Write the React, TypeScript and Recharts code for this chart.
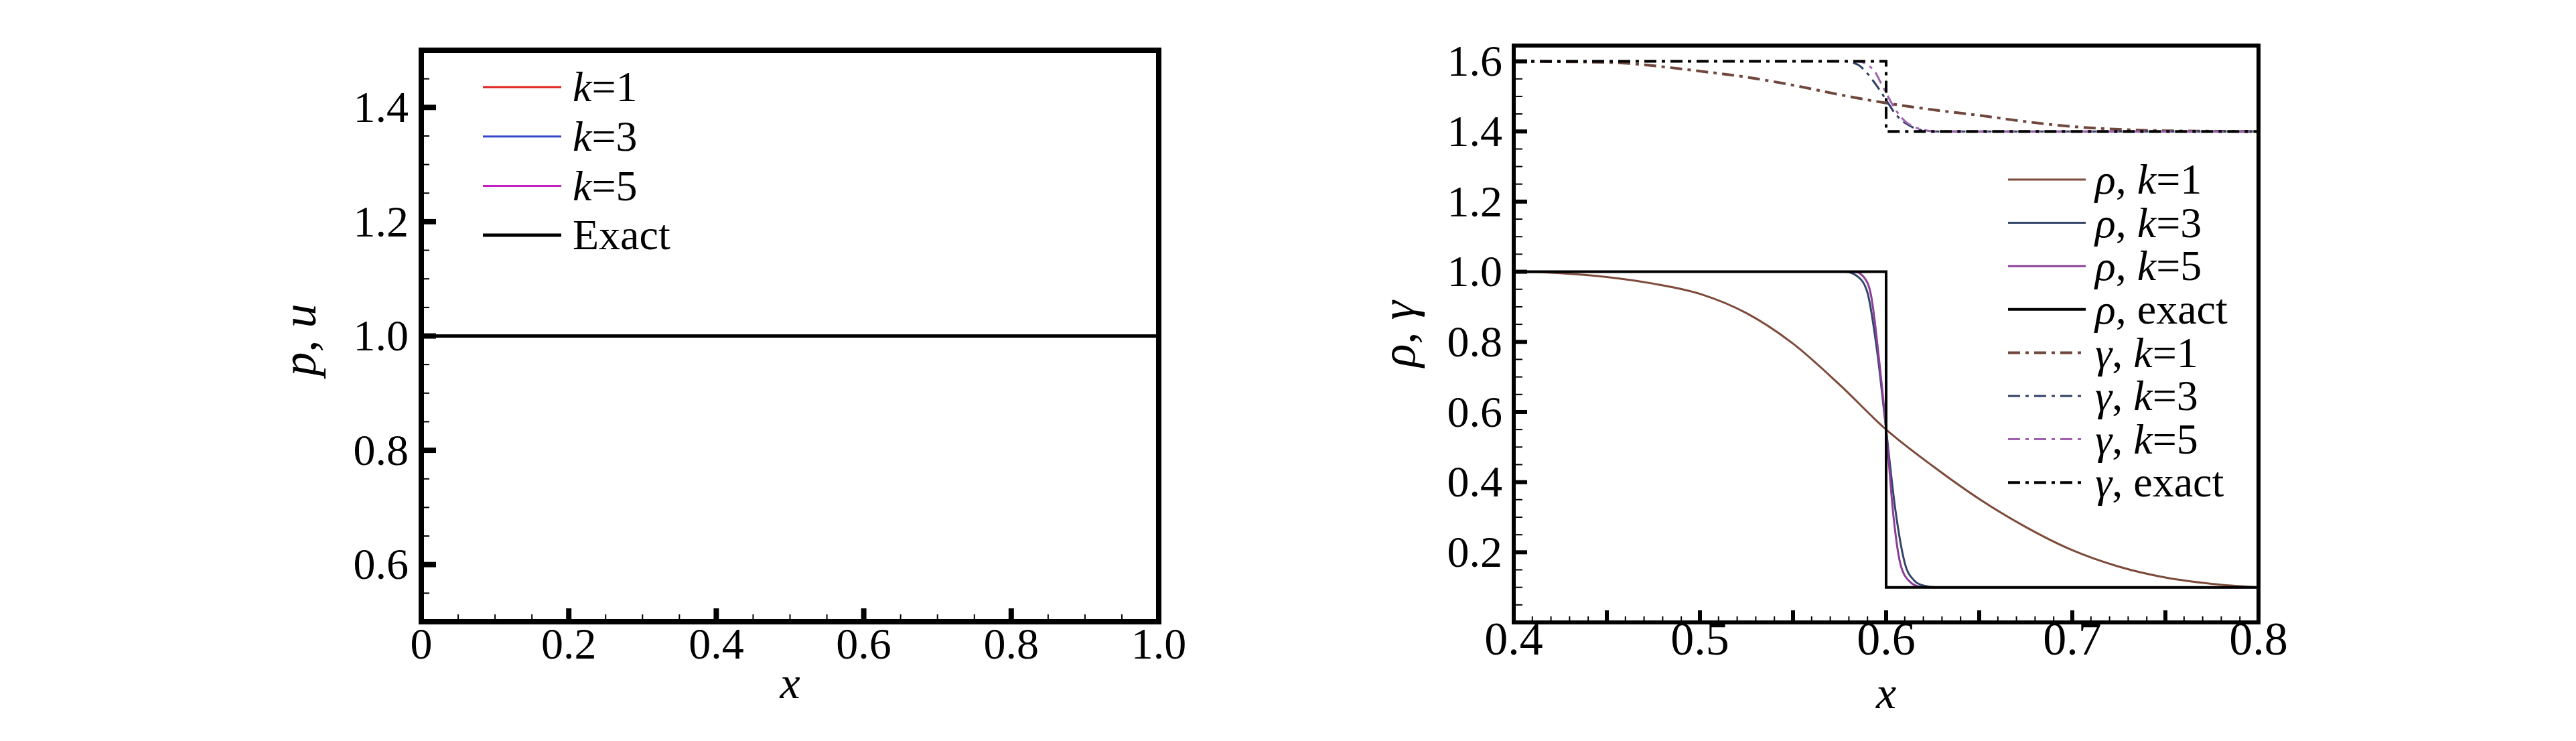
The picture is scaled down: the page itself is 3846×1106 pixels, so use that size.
import { LineChart, Line, XAxis, YAxis, ReferenceArea, Legend } from 'recharts'

const SERIF = '"Liberation Serif", "Times New Roman", "DejaVu Serif", serif'

// left panel: p and u stay at 1 everywhere
const leftX = [0, 0.2, 0.4, 0.6, 0.8, 1.0]
const leftK1 = [1, 1, 1, 1, 1, 1]
const leftK3 = [1, 1, 1, 1, 1, 1]
const leftK5 = [1, 1, 1, 1, 1, 1]
const leftExact = [1, 1, 1, 1, 1, 1]

const leftXTicks = [0, 0.2, 0.4, 0.6, 0.8, 1.0]
const leftXLabels = ['0', '0.2', '0.4', '0.6', '0.8', '1.0']
const leftYTicks = [0.6, 0.8, 1.0, 1.2, 1.4]
const leftYLabels = ['0.6', '0.8', '1.0', '1.2', '1.4']

// right panel: rho and gamma near the interface, [x, value]
const rhoK1 = [[0.4, 1.0], [0.425, 0.996], [0.45, 0.985], [0.475, 0.966], [0.5, 0.937], [0.525, 0.882], [0.55, 0.795], [0.575, 0.678], [0.6, 0.55], [0.625, 0.446], [0.65, 0.352], [0.675, 0.272], [0.7, 0.206], [0.725, 0.159], [0.75, 0.128], [0.775, 0.11], [0.8, 0.1]]
const rhoK3 = [[0.4, 1.0], [0.578, 1.0], [0.585, 0.985], [0.59, 0.94], [0.595, 0.78], [0.6, 0.55], [0.605, 0.32], [0.61, 0.17], [0.615, 0.12], [0.62, 0.105], [0.627, 0.1], [0.8, 0.1]]
const rhoK5 = [[0.4, 1.0], [0.583, 1.0], [0.588, 0.985], [0.592, 0.93], [0.596, 0.76], [0.6, 0.55], [0.604, 0.3], [0.608, 0.16], [0.613, 0.115], [0.618, 0.102], [0.622, 0.1], [0.8, 0.1]]
const rhoExact = [[0.4, 1.0], [0.6, 1.0], [0.6, 0.1], [0.8, 0.1]]
const gamK1 = [[0.4, 1.6], [0.45, 1.597], [0.5, 1.572], [0.525, 1.555], [0.55, 1.532], [0.575, 1.505], [0.6, 1.481], [0.625, 1.462], [0.65, 1.446], [0.675, 1.428], [0.7, 1.414], [0.725, 1.406], [0.75, 1.402], [0.8, 1.4]]
const gamK3 = [[0.4, 1.6], [0.578, 1.6], [0.585, 1.59], [0.59, 1.565], [0.595, 1.53], [0.6, 1.49], [0.605, 1.45], [0.61, 1.425], [0.615, 1.41], [0.62, 1.403], [0.628, 1.4], [0.8, 1.4]]
const gamK5 = [[0.4, 1.6], [0.585, 1.6], [0.59, 1.59], [0.594, 1.57], [0.598, 1.53], [0.602, 1.49], [0.606, 1.455], [0.61, 1.43], [0.615, 1.413], [0.62, 1.405], [0.626, 1.4], [0.8, 1.4]]
const gamExact = [[0.4, 1.6], [0.6, 1.6], [0.6, 1.4], [0.8, 1.4]]

const rightXTicks = [0.4, 0.5, 0.6, 0.7, 0.8]
const rightXLabels = ['0.4', '0.5', '0.6', '0.7', '0.8']
const rightXMid = [0.45, 0.55, 0.65, 0.75]
const rightYTicks = [0.2, 0.4, 0.6, 0.8, 1.0, 1.2, 1.4, 1.6]
const rightYLabels = ['0.2', '0.4', '0.6', '0.8', '1.0', '1.2', '1.4', '1.6']

const DASHDOT = '18 8 5 8'

const leftSeries = [
  { key: 'k1', name: 'k=1', color: '#e0221c', width: 3 },
  { key: 'k3', name: 'k=3', color: '#3546c8', width: 3 },
  { key: 'k5', name: 'k=5', color: '#c21fc4', width: 3 },
  { key: 'exact', name: 'Exact', color: '#000000', width: 5 },
]

const rightSeries = [
  { data: rhoK1, name: 'ρ, k=1', color: '#7d4a3a', width: 3, type: 'monotone' },
  { data: rhoK3, name: 'ρ, k=3', color: '#34466b', width: 3, type: 'monotone' },
  { data: rhoK5, name: 'ρ, k=5', color: '#8b3f98', width: 3, type: 'monotone' },
  { data: rhoExact, name: 'ρ, exact', color: '#000000', width: 4, type: 'linear' },
  { data: gamK1, name: 'γ, k=1', color: '#6f473d', width: 4, type: 'monotone', dash: DASHDOT },
  { data: gamK3, name: 'γ, k=3', color: '#2f3f63', width: 3, type: 'monotone', dash: DASHDOT },
  { data: gamK5, name: 'γ, k=5', color: '#a060b0', width: 3, type: 'monotone', dash: DASHDOT },
  { data: gamExact, name: 'γ, exact', color: '#000000', width: 4, type: 'linear', dash: DASHDOT },
]

const leftData = leftX.map((x, i) => ({ x, k1: leftK1[i], k3: leftK3[i], k5: leftK5[i], exact: leftExact[i] }))
const toPoints = (pairs: number[][]) => pairs.map(([x, y]) => ({ x, y }))

// positions for minor tick marks
function tickRange(from: number, to: number, step: number) {
  const out: number[] = []
  const n = Math.round((to - from) / step)
  for (let i = 0; i <= n; i++) out.push(Math.round((from + i * step) * 1000) / 1000)
  return out
}

const near = (a: number, b: number) => Math.abs(a - b) < 1e-6

type TickCfg = {
  major: number[]
  labels: string[]
  mid?: number[]
  majorLen: number
  majorW: number
  minorLen: number
  minorW: number
  fontSize: number
  gap: number
}

function makeYTick(cfg: TickCfg) {
  return (props: any) => {
    const { x, y, payload } = props
    const mi = cfg.major.findIndex((m) => near(m, payload.value))
    const big = mi >= 0 || (cfg.mid || []).some((m) => near(m, payload.value))
    return (
      <g>
        <line x1={x} x2={x + (big ? cfg.majorLen : cfg.minorLen)} y1={y} y2={y} stroke="#000" strokeWidth={big ? cfg.majorW : cfg.minorW} />
        {mi >= 0 && (
          <text x={x - cfg.gap} y={y} dy="0.33em" textAnchor="end" fontFamily={SERIF} fontSize={cfg.fontSize} fill="#000">
            {cfg.labels[mi]}
          </text>
        )}
      </g>
    )
  }
}

function makeXTick(cfg: TickCfg) {
  return (props: any) => {
    const { x, y, payload } = props
    const mi = cfg.major.findIndex((m) => near(m, payload.value))
    const big = mi >= 0 || (cfg.mid || []).some((m) => near(m, payload.value))
    return (
      <g>
        <line x1={x} x2={x} y1={y} y2={y - (big ? cfg.majorLen : cfg.minorLen)} stroke="#000" strokeWidth={big ? cfg.majorW : cfg.minorW} />
        {mi >= 0 && (
          <text x={x} y={y + cfg.gap} textAnchor="middle" fontFamily={SERIF} fontSize={cfg.fontSize} fill="#000">
            {cfg.labels[mi]}
          </text>
        )}
      </g>
    )
  }
}

// k, rho and gamma are set in italics
function MathText({ s }: { s: string }) {
  return (
    <>
      {s.split(/([kργ])/).filter(Boolean).map((part, i) =>
        /^[kργ]$/.test(part) ? (
          <tspan key={i} fontStyle="italic">{part}</tspan>
        ) : (
          <tspan key={i}>{part}</tspan>
        )
      )}
    </>
  )
}

function legendContent(items: any[], o: { top: number; gap: number; x1: number; x2: number; textX: number; fontSize: number; w: number; h: number }) {
  return () => (
    <svg width={o.w} height={o.h} style={{ display: 'block', overflow: 'visible' }}>
      {items.map((it, i) => {
        const y = o.top + i * o.gap
        return (
          <g key={it.name}>
            <line x1={o.x1} x2={o.x2} y1={y} y2={y} stroke={it.color} strokeWidth={it.width} strokeDasharray={it.dash} />
            <text x={o.textX} y={y} dy="0.33em" fontFamily={SERIF} fontSize={o.fontSize} fill="#000">
              <MathText s={it.name} />
            </text>
          </g>
        )
      })}
    </svg>
  )
}

const leftXTitle = (p: any) => {
  const vb = p.viewBox
  return (
    <text x={vb.x + vb.width / 2} y={vb.y + 114} textAnchor="middle" fontFamily={SERIF} fontSize={68} fontStyle="italic">x</text>
  )
}

const leftYTitle = (p: any) => {
  const vb = p.viewBox
  const cx = vb.x + 22
  const cy = vb.y + vb.height / 2 + 6
  return (
    <text x={cx} y={cy} transform={`rotate(-90 ${cx} ${cy})`} textAnchor="middle" fontFamily={SERIF} fontSize={72}>
      <tspan fontStyle="italic">p</tspan><tspan>, </tspan><tspan fontStyle="italic">u</tspan>
    </text>
  )
}

const rightXTitle = (p: any) => {
  const vb = p.viewBox
  return (
    <text x={vb.x + vb.width / 2} y={vb.y + 128} textAnchor="middle" fontFamily={SERIF} fontSize={68} fontStyle="italic">x</text>
  )
}

const rightYTitle = (p: any) => {
  const vb = p.viewBox
  const cx = vb.x + 32
  const cy = vb.y + vb.height / 2
  return (
    <text x={cx} y={cy} transform={`rotate(-90 ${cx} ${cy})`} textAnchor="middle" fontFamily={SERIF} fontSize={72}>
      <tspan fontStyle="italic">ρ</tspan><tspan>, </tspan><tspan fontStyle="italic">γ</tspan>
    </text>
  )
}

export default function App() {
  return (
    <div style={{ position: 'absolute', left: 0, top: 0, width: 3846, height: 1106, background: '#fff' }}>
      {/* left: p, u */}
      <div style={{ position: 'absolute', left: 400, top: 0 }}>
        <LineChart width={1400} height={1106} data={leftData} margin={{ top: 75, right: 70, bottom: 28, left: 49 }}>
          <XAxis
            dataKey="x"
            type="number"
            domain={[0, 1]}
            allowDataOverflow
            ticks={tickRange(0, 1, 0.05)}
            interval={0}
            height={150}
            tickSize={0}
            tickMargin={0}
            axisLine={false}
            tickLine={false}
            tick={makeXTick({ major: leftXTicks, labels: leftXLabels, majorLen: 20, majorW: 8, minorLen: 11, minorW: 2, fontSize: 66, gap: 55 })}
            label={leftXTitle}
          />
          <YAxis
            type="number"
            domain={[0.5, 1.5]}
            allowDataOverflow
            ticks={tickRange(0.55, 1.45, 0.05)}
            interval={0}
            width={180}
            tickSize={0}
            tickMargin={0}
            axisLine={false}
            tickLine={false}
            tick={makeYTick({ major: leftYTicks, labels: leftYLabels, majorLen: 22, majorW: 8, minorLen: 12, minorW: 2, fontSize: 66, gap: 19 })}
            label={leftYTitle}
          />
          {leftSeries.map((s) => (
            <Line key={s.key} dataKey={s.key} name={s.name} type="linear" stroke={s.color} strokeWidth={s.width} dot={false} isAnimationActive={false} />
          ))}
          <ReferenceArea x1={0} x2={1} y1={0.5} y2={1.5} fill="none" stroke="#000" strokeWidth={8} />
          <Legend
            layout="vertical"
            align="center"
            verticalAlign="middle"
            wrapperStyle={{ left: 300, top: 90, width: 420, height: 300 }}
            content={legendContent(leftSeries, { top: 40, gap: 73.7, x1: 21, x2: 138, textX: 155, fontSize: 64, w: 420, h: 300 })}
          />
        </LineChart>
      </div>

      {/* right: rho, gamma */}
      <div style={{ position: 'absolute', left: 2000, top: 0 }}>
        <LineChart width={1450} height={1106} margin={{ top: 68, right: 78, bottom: 27, left: 80 }}>
          <XAxis
            dataKey="x"
            type="number"
            domain={[0.4, 0.8]}
            allowDataOverflow
            ticks={tickRange(0.4, 0.8, 0.01)}
            interval={0}
            height={150}
            tickSize={0}
            tickMargin={0}
            axisLine={false}
            tickLine={false}
            tick={makeXTick({ major: rightXTicks, labels: rightXLabels, mid: rightXMid, majorLen: 18, majorW: 6, minorLen: 9, minorW: 2, fontSize: 70, gap: 48 })}
            label={rightXTitle}
          />
          <YAxis
            type="number"
            domain={[0, 1.645]}
            allowDataOverflow
            ticks={tickRange(0.05, 1.6, 0.05)}
            interval={0}
            width={180}
            tickSize={0}
            tickMargin={0}
            axisLine={false}
            tickLine={false}
            tick={makeYTick({ major: rightYTicks, labels: rightYLabels, majorLen: 20, majorW: 6, minorLen: 13, minorW: 2, fontSize: 66, gap: 17 })}
            label={rightYTitle}
          />
          {rightSeries.map((s) => (
            <Line
              key={s.name}
              data={toPoints(s.data)}
              dataKey="y"
              name={s.name}
              type={s.type as any}
              stroke={s.color}
              strokeWidth={s.width}
              strokeDasharray={s.dash}
              dot={false}
              isAnimationActive={false}
            />
          ))}
          <ReferenceArea x1={0.4} x2={0.8} y1={0} y2={1.645} fill="none" stroke="#000" strokeWidth={6} />
          <Legend
            layout="vertical"
            align="center"
            verticalAlign="middle"
            wrapperStyle={{ left: 980, top: 230, width: 400, height: 540 }}
            content={legendContent(rightSeries, { top: 38, gap: 64.6, x1: 18, x2: 134, textX: 148, fontSize: 64, w: 400, h: 540 })}
          />
        </LineChart>
      </div>
    </div>
  )
}
